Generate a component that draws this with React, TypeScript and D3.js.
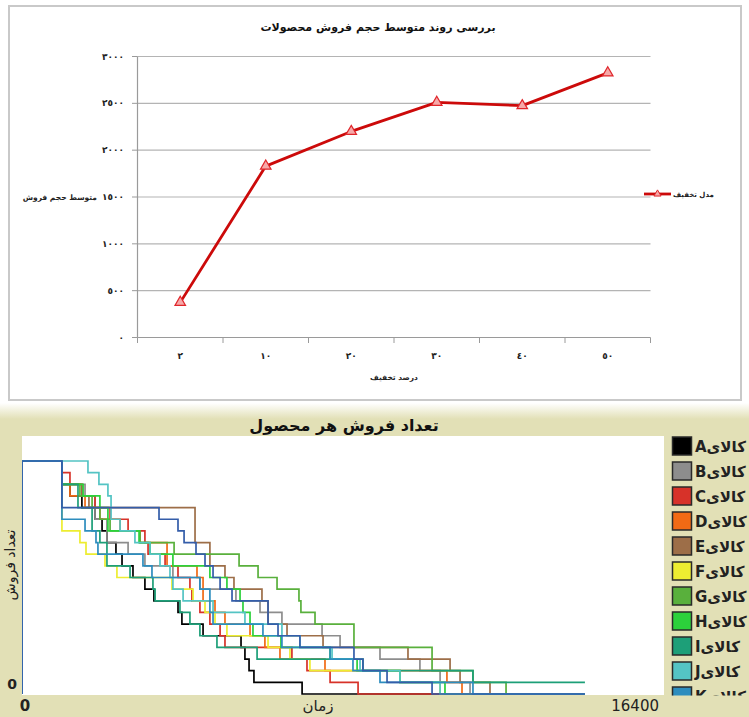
import React from "react";
import * as d3 from "d3";

// ---------- Upper chart: average sales volume per discount level ----------
const discountLabels = ["٢", "١٠", "٢٠", "٣٠", "٤٠", "٥٠"];
const avgSalesVolume = [375, 1830, 2200, 2510, 2475, 2825];
const salesTicks = [0, 500, 1000, 1500, 2000, 2500, 3000];
const salesTickLabels = ["٠", "٥٠٠", "١٠٠٠", "١٥٠٠", "٢٠٠٠", "٢٥٠٠", "٣٠٠٠"];

// ---------- Lower chart: remaining sales count per product over time ----------
// Each series: [time, count] steps (count holds until the next time).
const seriesA: [number, number][] = [[0, 0], [0, 20], [1020, 18], [1225, 17], [1530, 16], [1865, 15], [2045, 14], [2170, 13], [2400, 12], [2555, 11], [2835, 10], [3140, 9], [3370, 8], [3985, 7], [4085, 6], [4625, 5], [5595, 4], [5695, 3], [5800, 2], [5925, 1], [7155, 0]];
const seriesB: [number, number][] = [[0, 0], [0, 20], [1020, 18], [1610, 17], [1865, 15], [2170, 13], [2710, 12], [3140, 11], [3855, 10], [4545, 9], [5465, 8], [6080, 7], [6640, 6], [7665, 5], [8125, 4], [9145, 3], [10165, 2], [10680, 1], [11445, 0]];
const seriesC: [number, number][] = [[0, 0], [0, 20], [1020, 19], [1225, 18], [1530, 17], [1865, 16], [2250, 15], [2710, 14], [3140, 13], [3220, 12], [3655, 11], [3985, 10], [4290, 9], [4340, 8], [4545, 7], [4800, 6], [5060, 5], [5185, 4], [6895, 3], [7280, 2], [7870, 1], [8585, 0]];
const seriesD: [number, number][] = [[0, 0], [0, 20], [1020, 18], [1225, 17], [1610, 16], [1990, 15], [2505, 14], [3015, 13], [3705, 11], [4470, 10], [4625, 8], [4930, 7], [5185, 6], [5825, 5], [6205, 4], [6590, 3], [7740, 2], [10855, 1], [11240, 0]];
const seriesE: [number, number][] = [[0, 0], [0, 20], [1020, 18], [1530, 17], [1710, 16], [4420, 13], [4800, 11], [5185, 10], [5415, 9], [6130, 8], [6285, 6], [6770, 5], [7690, 4], [9860, 3], [10935, 2], [11190, 1], [11955, 0]];
const seriesF: [number, number][] = [[0, 0], [0, 20], [1020, 14], [1480, 13], [1635, 12], [2120, 11], [2425, 10], [3830, 9], [4370, 8], [4675, 7], [4930, 6], [5235, 5], [6285, 4], [6845, 3], [7355, 2], [9655, 1], [10680, 0]];
const seriesG: [number, number][] = [[0, 0], [0, 20], [1020, 18], [1480, 17], [1790, 16], [1990, 15], [2250, 14], [3015, 13], [3885, 12], [5545, 11], [6030, 10], [6515, 9], [7075, 8], [7125, 7], [7485, 6], [8480, 4], [10475, 2], [11520, 1], [12365, 0]];
const seriesH: [number, number][] = [[0, 0], [0, 20], [1020, 18], [1560, 17], [1990, 16], [2195, 14], [2990, 13], [3270, 12], [3855, 11], [4800, 10], [5235, 9], [5570, 8], [5645, 7], [5825, 6], [5900, 5], [6615, 4], [7870, 3], [8560, 2], [9655, 1], [10805, 0]];
const seriesI: [number, number][] = [[0, 0], [0, 20], [1020, 18], [1430, 16], [1790, 14], [1990, 13], [2170, 11], [2760, 10], [3345, 9], [3400, 8], [4035, 7], [4290, 6], [4545, 5], [4980, 4], [6005, 3], [8710, 2], [11520, 1]];
const seriesJ: [number, number][] = [[0, 0], [0, 20], [1685, 19], [1965, 18], [2195, 17], [2275, 15], [2505, 14], [2885, 13], [3270, 12], [3525, 11], [3780, 10], [3855, 9], [4115, 8], [4880, 7], [5695, 6], [6640, 5], [7100, 4], [7920, 3], [8635, 2], [9655, 1], [10680, 0]];
const seriesK: [number, number][] = [[0, 0], [0, 20], [1020, 15], [1610, 14], [1890, 13], [1940, 12], [3090, 11], [3320, 10], [4545, 9], [4800, 7], [4880, 6], [6155, 5], [6640, 4], [7870, 3], [8455, 2], [9145, 1], [11520, 0]];
const seriesL: [number, number][] = [[0, 0], [0, 20], [1020, 16], [3500, 15], [3985, 14], [4140, 13], [4445, 12], [4675, 11], [4880, 10], [5060, 9], [5365, 8], [6285, 6], [6540, 5], [7100, 4], [8480, 3], [8710, 2], [9325, 1], [10475, 0]];

const productNames = ["A", "B", "C", "D", "E", "F", "G", "H", "I", "J", "K", "L"];
const productColors = ["#000000", "#8d8d8d", "#d73229", "#f16a15", "#9d6e48", "#eded31", "#59b03c", "#2cd13b", "#1d9f78", "#54c4c4", "#2d8dbe", "#345da9"];
const productSeries = [seriesA, seriesB, seriesC, seriesD, seriesE, seriesF, seriesG, seriesH, seriesI, seriesJ, seriesK, seriesL];
const timeMax = 16400;
const runEnd = 14380;

const FONT = "DejaVu Sans, sans-serif";

function TopChart() {
  const x = d3.scaleBand<string>().domain(discountLabels).range([137.5, 650.5]);
  const y = d3.scaleLinear().domain([0, 3000]).range([337.5, 56.5]);
  const pts = discountLabels.map((d, i) => [x(d)! + x.bandwidth() / 2, y(avgSalesVolume[i])] as [number, number]);
  const line = d3.line()(pts)!;
  const tri = d3.symbol(d3.symbolTriangle, 48)()!;
  const edges = [...discountLabels.map((d) => x(d)!), 650.5];
  return (
    <g>
      <rect x={9} y={6} width={732} height={394} fill="#fff" stroke="#c9c9c9" strokeWidth={2} />
      <text x={378} y={31} textAnchor="middle" fontFamily={FONT} fontWeight="bold" fontSize={11} fill="#111">
        بررسی روند متوسط حجم فروش محصولات
      </text>
      {salesTicks.map((t, i) => (
        <g key={t}>
          {t > 0 && <line x1={137.5} x2={650.5} y1={y(t)} y2={y(t)} stroke="#b4b4b4" strokeWidth={1.2} />}
          <line x1={132} x2={137.5} y1={y(t)} y2={y(t)} stroke="#9a9a9a" />
          <text x={124} y={y(t)} dy="0.35em" textAnchor="end" fontFamily={FONT} fontWeight="bold" fontSize={9} fill="#222">
            {salesTickLabels[i]}
          </text>
        </g>
      ))}
      <line x1={137.5} x2={137.5} y1={56.5} y2={337.5} stroke="#9a9a9a" strokeWidth={1.2} />
      <line x1={137.5} x2={650.5} y1={337.5} y2={337.5} stroke="#9a9a9a" strokeWidth={1.2} />
      {edges.map((e, i) => (
        <line key={i} x1={e} x2={e} y1={337.5} y2={343} stroke="#9a9a9a" />
      ))}
      {discountLabels.map((d) => (
        <text key={d} x={x(d)! + x.bandwidth() / 2} y={356} dy="0.35em" textAnchor="middle" fontFamily={FONT} fontWeight="bold" fontSize={9} fill="#222">
          {d}
        </text>
      ))}
      <text x={394} y={377} dy="0.35em" textAnchor="middle" fontFamily={FONT} fontWeight="bold" fontSize={7.5} fill="#222">
        درصد تخفیف
      </text>
      <text x={97} y={197} dy="0.35em" textAnchor="end" fontFamily={FONT} fontWeight="bold" fontSize={7.5} fill="#222">
        متوسط حجم فروش
      </text>
      <path d={line} fill="none" stroke="#cc0a0a" strokeWidth={2.8} strokeLinejoin="round" />
      {pts.map((p, i) => (
        <path key={i} d={tri} transform={`translate(${p[0]},${p[1]})`} fill="#f6a9a9" stroke="#e0262b" strokeWidth={1.2} />
      ))}
      <line x1={644} x2={671} y1={194} y2={194} stroke="#cc0a0a" strokeWidth={2.8} />
      <path d={d3.symbol(d3.symbolTriangle, 22)()!} transform="translate(657.5,194)" fill="#f6a9a9" stroke="#e0262b" strokeWidth={1} />
      <text x={673} y={195} dy="0.35em" fontFamily={FONT} fontWeight="bold" fontSize={7} fill="#222">
        مدل تخفیف
      </text>
    </g>
  );
}

function BottomChart() {
  const x = d3.scaleLinear().domain([0, timeMax]).range([22, 664]);
  const y = d3.scaleLinear().domain([0, 22]).range([694, 437.7]);
  const stepLine = d3
    .line<[number, number]>()
    .x((d) => x(d[0]))
    .y((d) => y(d[1]))
    .curve(d3.curveStepAfter);
  return (
    <g>
      <defs>
        <linearGradient id="panelFade" x1="0" y1="0" x2="0" y2="1">
          <stop offset="0" stopColor="#ffffff" />
          <stop offset="1" stopColor="#e2e0b6" />
        </linearGradient>
        <clipPath id="plotClip">
          <rect x={22} y={436} width={642} height={259} />
        </clipPath>
        <clipPath id="legendClip">
          <rect x={666} y={430} width={83} height={265.5} />
        </clipPath>
      </defs>
      <rect x={0} y={403} width={749} height={314} fill="#e2e0b6" />
      <rect x={0} y={403} width={749} height={16} fill="url(#panelFade)" />
      <rect x={22} y={436} width={642} height={259} fill="#ffffff" />
      <text x={344} y={425} dy="0.35em" textAnchor="middle" fontFamily={FONT} fontWeight="bold" fontSize={16} fill="#111">
        تعداد فروش هر محصول
      </text>
      <g clipPath="url(#plotClip)">
        {productSeries.map((s, i) => {
          const last = s[s.length - 1];
          const pts = [...s, [runEnd, last[1]] as [number, number]];
          return <path key={i} d={stepLine(pts)!} fill="none" stroke={productColors[i]} strokeWidth={1.7} />;
        })}
      </g>
      <text x={12} y={684} dy="0.35em" textAnchor="middle" fontFamily={FONT} fontWeight="bold" fontSize={14} fill="#222">
        0
      </text>
      <text transform="translate(10,565) rotate(-90)" dy="0.35em" textAnchor="middle" fontFamily={FONT} fontSize={14} fill="#222">
        تعداد فروش
      </text>
      <text x={25} y={706} dy="0.35em" textAnchor="middle" fontFamily={FONT} fontWeight="bold" fontSize={15} fill="#222">
        0
      </text>
      <text x={318} y={706} dy="0.35em" textAnchor="middle" fontFamily={FONT} fontSize={15} fill="#222">
        زمان
      </text>
      <text x={659} y={706} dy="0.35em" textAnchor="end" fontFamily={FONT} fontSize={15} fill="#222">
        16400
      </text>
      <g clipPath="url(#legendClip)">
        {productNames.map((n, i) => (
          <g key={n} transform={`translate(0,${437 + i * 25})`}>
            <rect x={672.5} y={0} width={19} height={18} fill={productColors[i]} stroke="#2a2a2a" strokeWidth={1.5} />
            <text x={695} y={10} dy="0.35em" fontFamily={FONT} fontWeight="bold" fontSize={15} fill="#222">
              {n}کالای
            </text>
          </g>
        ))}
      </g>
    </g>
  );
}

export default function App() {
  return (
    <div style={{ position: "absolute", left: 0, top: 0 }}>
      <svg width={749} height={717} style={{ display: "block", background: "#fff" }}>
        <TopChart />
        <BottomChart />
      </svg>
    </div>
  );
}
